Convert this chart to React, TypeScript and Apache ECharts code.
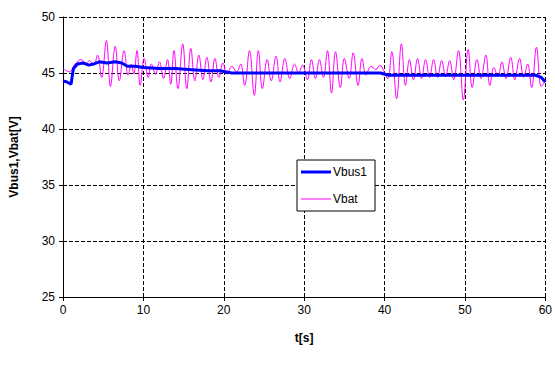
import React, { useEffect, useRef } from "react";
import * as echarts from "echarts";

const xTicks = [0, 10, 20, 30, 40, 50, 60];
const yTicks = [25, 30, 35, 40, 45, 50];

const vbusT = [0, 0.5, 1.0, 1.3, 1.8, 2.5, 3.2, 3.8, 4.5, 5.5, 6.5, 7.3, 8.0, 9.0, 10.0, 12, 14, 16, 18, 19.5, 21, 22, 26, 30, 35, 39.5, 40.5, 45, 50, 55, 58.8, 59.5, 60];
const vbusV = [44.3, 44.2, 44.0, 45.4, 45.8, 45.9, 45.7, 45.8, 46.0, 45.9, 46.0, 45.9, 45.6, 45.6, 45.5, 45.4, 45.4, 45.3, 45.2, 45.2, 45.0, 45.0, 45.0, 45.0, 45.0, 45.0, 44.8, 44.8, 44.8, 44.8, 44.8, 44.6, 44.2];

const vbatT = [0, 0.8, 1.5, 2.3, 2.8, 3.3, 3.8, 4.3, 4.8, 5.4, 5.9, 6.5, 7.0, 7.6, 8.1, 8.5, 8.8, 9.2, 9.6, 10.1, 10.6, 11.0, 11.5, 12.0, 12.5, 13.0, 13.4, 13.8, 14.3, 14.9, 15.4, 15.9, 16.4, 16.9, 17.4, 17.9, 18.4, 18.9, 19.4, 19.9, 20.4, 21.0, 21.6, 22.1, 22.6, 23.2, 23.8, 24.3, 24.8, 25.4, 25.9, 26.5, 27.0, 27.6, 28.2, 28.8, 29.3, 29.8, 30.4, 30.9, 31.4, 31.9, 32.4, 32.9, 33.4, 33.9, 34.5, 35.0, 35.6, 36.1, 36.7, 37.2, 37.7, 38.3, 38.9, 39.4, 39.9, 40.4, 40.9, 41.5, 42.1, 42.6, 43.1, 43.6, 44.1, 44.6, 45.1, 45.6, 46.1, 46.6, 47.1, 47.6, 48.1, 48.6, 49.2, 49.8, 50.4, 50.9, 51.5, 52.0, 52.6, 53.1, 53.6, 54.1, 54.6, 55.1, 55.7, 56.2, 56.8, 57.3, 57.8, 58.3, 58.9, 59.5, 60];
const vbatV = [45.4, 45.1, 45.8, 46.2, 45.8, 46.1, 45.7, 46.6, 44.6, 47.9, 43.8, 47.4, 44.3, 47.0, 44.8, 45.8, 44.9, 47.0, 43.9, 46.3, 44.6, 45.8, 44.9, 46.0, 44.5, 46.2, 44.0, 47.0, 43.6, 47.6, 43.6, 47.2, 44.3, 46.6, 44.4, 46.4, 44.2, 46.3, 44.6, 45.9, 44.9, 45.6, 45.1, 45.8, 43.9, 47.0, 43.0, 47.0, 43.6, 46.2, 44.3, 46.5, 44.2, 46.3, 44.5, 45.8, 45.0, 45.7, 44.4, 46.2, 44.5, 46.2, 44.6, 47.0, 43.2, 46.9, 43.7, 46.3, 44.5, 46.8, 43.9, 46.3, 44.8, 45.6, 45.3, 45.7, 45.2, 44.5, 46.9, 42.7, 47.6, 43.9, 46.2, 44.4, 46.3, 44.5, 46.2, 44.6, 46.2, 44.6, 46.1, 44.7, 46.1, 44.4, 47.0, 42.6, 47.1, 43.7, 46.2, 44.5, 46.6, 43.9, 45.5, 44.7, 46.0, 44.5, 46.4, 44.4, 46.3, 44.6, 45.8, 43.7, 47.3, 43.8, 44.3];

export default function App() {
  const ref = useRef<HTMLDivElement>(null);
  useEffect(() => {
    if (!ref.current) return;
    const chart = echarts.init(ref.current, null, { renderer: "svg" });
    const font = "Liberation Sans, Arial, sans-serif";
    const split = { show: true, lineStyle: { color: "#000000", type: "dashed", width: 1, opacity: 1 } };
    chart.setOption({
      animation: false,
      backgroundColor: "#ffffff",
      grid: { left: 60, right: 8, top: 17, bottom: 68, show: false },
      xAxis: {
        type: "value",
        min: xTicks[0],
        max: xTicks[xTicks.length - 1],
        interval: 10,
        name: "t[s]",
        nameLocation: "middle",
        nameGap: 35,
        nameTextStyle: { fontFamily: font, fontSize: 12, fontWeight: "bold", color: "#000" },
        axisLine: { show: true, lineStyle: { color: "#000", width: 1 } },
        axisTick: { show: true, length: 4, lineStyle: { color: "#000" } },
        axisLabel: { fontFamily: font, fontSize: 12, color: "#000", margin: 7 },
        splitLine: split,
      },
      yAxis: {
        type: "value",
        min: yTicks[0],
        max: yTicks[yTicks.length - 1],
        interval: 5,
        name: "Vbus1,Vbat[V]",
        nameLocation: "middle",
        nameGap: 43,
        nameTextStyle: { fontFamily: font, fontSize: 12, fontWeight: "bold", color: "#000" },
        axisLine: { show: true, lineStyle: { color: "#000", width: 1 } },
        axisTick: { show: true, length: 4, lineStyle: { color: "#000" } },
        axisLabel: { fontFamily: font, fontSize: 12, color: "#000", margin: 8 },
        splitLine: split,
      },
      legend: {
        orient: "vertical",
        left: 297,
        top: 160,
        padding: [6, 8, 6, 4],
        itemGap: 15,
        itemWidth: 30,
        itemHeight: 3,
        borderColor: "#000",
        borderWidth: 1,
        backgroundColor: "#fff",
        textStyle: { fontFamily: font, fontSize: 12, color: "#000", padding: [0, 0, 0, -3] },
        data: [
          { name: "Vbus1", icon: "rect", itemStyle: { color: "#0000ff" } },
          {
            name: "Vbat",
            icon: "path://M0,1H30V2H0Z M0,0H0.01V0.01H0Z M0,3H0.01V2.99H0Z",
            itemStyle: { color: "#ff00ff" },
          },
        ],
      },
      series: [
        {
          name: "Vbat",
          type: "line",
          symbol: "none",
          smooth: 0.4,
          lineStyle: { color: "#ff00ff", width: 1 },
          itemStyle: { color: "#ff00ff" },
          data: vbatT.map((t, i) => [t, vbatV[i]]),
          z: 2,
        },
        {
          name: "Vbus1",
          type: "line",
          symbol: "none",
          lineStyle: { color: "#0000ff", width: 3 },
          itemStyle: { color: "#0000ff" },
          data: vbusT.map((t, i) => [t, vbusV[i]]),
          z: 3,
        },
      ],
    });
    return () => chart.dispose();
  }, []);
  return (
    <div
      ref={ref}
      style={{ position: "fixed", left: 0, top: 0, width: 555, height: 365, background: "#fff" }}
    />
  );
}
